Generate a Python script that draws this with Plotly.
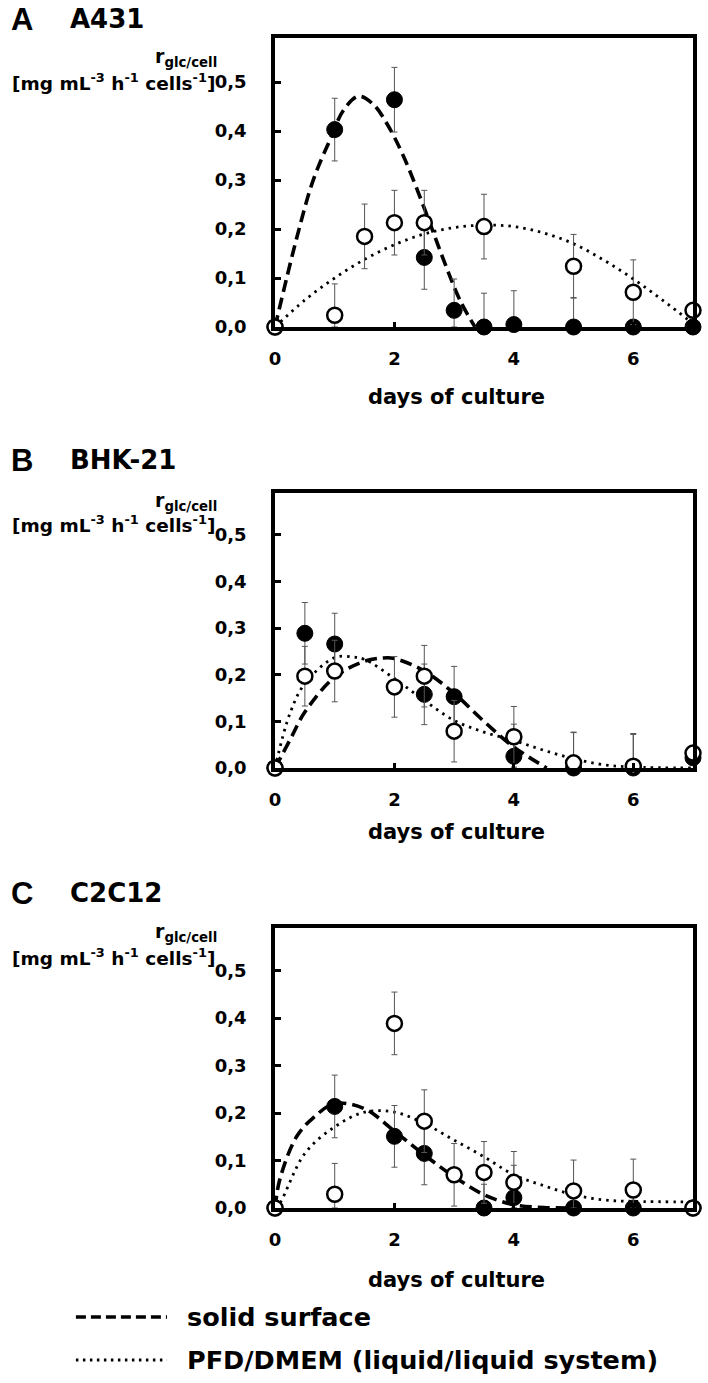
import plotly.graph_objects as go

# ---------------- data ----------------
# Panel A: A431
A_solid_days = [0, 1, 2, 2.5, 3, 3.5, 4, 5, 6, 7]
A_solid_r = [0, 0.403, 0.464, 0.142, 0.034, 0.0, 0.005, 0.0, 0.0, 0.0]
A_solid_err = [0, 0.064, 0.066, 0.065, 0.064, 0.069, 0.069, 0.06, 0, 0]
A_liq_days = [0, 1, 1.5, 2, 2.5, 3.5, 5, 6, 7]
A_liq_r = [0, 0.024, 0.185, 0.213, 0.213, 0.205, 0.124, 0.071, 0.034]
A_liq_err = [0, 0.064, 0.066, 0.066, 0.066, 0.066, 0.065, 0.066, 0]
A_fit_solid_days = [0, 0.36, 0.64, 0.92, 1.15, 1.4, 1.65, 1.87, 2.15, 2.53, 2.82, 3.1, 3.35]
A_fit_solid_r = [0, 0.18, 0.30, 0.382, 0.443, 0.471, 0.454, 0.416, 0.349, 0.233, 0.138, 0.054, 0.0]
A_fit_liq_days = [0, 0.5, 1, 1.5, 2, 2.5, 3, 3.5, 4, 4.5, 5, 5.5, 6, 6.5, 7]
A_fit_liq_r = [0, 0.055, 0.1, 0.138, 0.168, 0.19, 0.203, 0.208, 0.205, 0.192, 0.17, 0.137, 0.098, 0.054, 0.007]

# Panel B: BHK-21
B_solid_days = [0, 0.5, 1, 2.5, 3, 4, 5, 6, 7]
B_solid_r = [0, 0.289, 0.266, 0.158, 0.153, 0.025, 0.0, 0.0, 0.022]
B_solid_err = [0, 0.066, 0.066, 0.065, 0.065, 0.069, 0.076, 0.072, 0]
B_liq_days = [0, 0.5, 1, 2, 2.5, 3, 4, 5, 6, 7]
B_liq_r = [0, 0.197, 0.208, 0.174, 0.197, 0.079, 0.067, 0.011, 0.004, 0.032]
B_liq_err = [0, 0.064, 0.066, 0.065, 0.066, 0.066, 0.065, 0.066, 0.07, 0]
B_fit_solid_days = [0, 0.25, 0.5, 1, 1.5, 1.8, 2, 2.5, 3, 3.5, 4, 4.55]
B_fit_solid_r = [0, 0.06, 0.12, 0.195, 0.229, 0.236, 0.235, 0.208, 0.16, 0.1, 0.045, 0.0]
B_fit_liq_days = [0, 0.25, 0.5, 1, 1.3, 1.5, 2, 2.5, 3, 3.5, 4, 4.5, 5, 5.5, 6, 7]
B_fit_liq_r = [0, 0.117, 0.181, 0.237, 0.238, 0.233, 0.192, 0.145, 0.102, 0.077, 0.059, 0.038, 0.02, 0.007, 0.002, 0.0]

# Panel C: C2C12
C_solid_days = [0, 1, 2, 2.5, 3.5, 4, 5, 6, 7]
C_solid_r = [0, 0.214, 0.151, 0.115, 0.0, 0.022, 0.0, 0.0, 0.0]
C_solid_err = [0, 0.066, 0.065, 0.066, 0.05, 0.068, 0, 0, 0]
C_liq_days = [0, 1, 2, 2.5, 3, 3.5, 4, 5, 6, 7]
C_liq_r = [0, 0.029, 0.389, 0.183, 0.07, 0.075, 0.054, 0.036, 0.038, 0.0]
C_liq_err = [0, 0.065, 0.066, 0.066, 0.066, 0.065, 0.065, 0.065, 0.065, 0]
C_fit_solid_days = [0, 0.08, 0.36, 0.64, 1, 1.5, 2, 2.5, 3, 3.5, 4, 4.5, 5]
C_fit_solid_r = [0, 0.06, 0.15, 0.19, 0.22, 0.209, 0.162, 0.112, 0.066, 0.028, 0.007, 0.001, 0.0]
C_fit_liq_days = [0, 0.08, 0.5, 1, 1.5, 2, 2.5, 3, 3.5, 4, 4.5, 5, 5.5, 6, 7]
C_fit_liq_r = [0, 0.01, 0.115, 0.171, 0.202, 0.202, 0.178, 0.143, 0.108, 0.07, 0.047, 0.028, 0.017, 0.014, 0.013]

panel_letters = ["A", "B", "C"]
panel_names = ["A431", "BHK-21", "C2C12"]
x_ticks = [0, 2, 4, 6]
y_ticks = [0.0, 0.1, 0.2, 0.3, 0.4, 0.5]
x_title = "days of culture"
y_title_1 = "r<sub>glc/cell</sub>"
y_title_2 = "[mg mL<sup>-3</sup> h<sup>-1</sup> cells<sup>-1</sup>]"
legend_labels = ["solid surface", "PFD/DMEM (liquid/liquid system)"]

panels = [
    (A_solid_days, A_solid_r, A_solid_err, A_liq_days, A_liq_r, A_liq_err,
     A_fit_solid_days, A_fit_solid_r, A_fit_liq_days, A_fit_liq_r),
    (B_solid_days, B_solid_r, B_solid_err, B_liq_days, B_liq_r, B_liq_err,
     B_fit_solid_days, B_fit_solid_r, B_fit_liq_days, B_fit_liq_r),
    (C_solid_days, C_solid_r, C_solid_err, C_liq_days, C_liq_r, C_liq_err,
     C_fit_solid_days, C_fit_solid_r, C_fit_liq_days, C_fit_liq_r),
]

# ---------------- layout geometry (pixels) ----------------
W, H = 708, 1383
ML, MR, MT, MB = 275, 11, 38, 175
PW = W - ML - MR
PH = H - MT - MB

def px(x):
    return (x - ML) / PW

def py(y):
    return (H - MB - y) / PH

boxes = [(38, 327), (493, 768), (928, 1208)]
title_y = [397, 832, 1280]
label_y = [19, 460, 893]
r_y = [57, 501, 933]
unit_y = [82, 524, 957]

FONT = "'DejaVu Sans', sans-serif"

fig = go.Figure()

for i, p in enumerate(panels):
    sd, sr, se, ld, lr, le, fsd, fsr, fld, flr = p
    xa = "x" if i == 0 else f"x{i+1}"
    ya = "y" if i == 0 else f"y{i+1}"
    fig.add_trace(go.Scatter(x=fsd, y=fsr, mode="lines", xaxis=xa, yaxis=ya,
                             line=dict(color="black", width=3.6, dash="12px,6px", shape="spline", smoothing=1.0),
                             showlegend=False, hoverinfo="skip"))
    fig.add_trace(go.Scatter(x=fld, y=flr, mode="lines", xaxis=xa, yaxis=ya,
                             line=dict(color="black", width=2.8, dash="2.5px,5px", shape="spline", smoothing=1.0),
                             showlegend=False, hoverinfo="skip"))
    fig.add_trace(go.Scatter(
        x=sd, y=sr, mode="markers", xaxis=xa, yaxis=ya, cliponaxis=False,
        error_y=dict(type="data", array=se, arrayminus=[min(e, v) for e, v in zip(se, sr)],
                     color="#555555", thickness=1, width=3),
        marker=dict(symbol="circle", size=16, color="black", line=dict(color="black", width=1)),
        showlegend=False))
    fig.add_trace(go.Scatter(
        x=ld, y=lr, mode="markers", xaxis=xa, yaxis=ya, cliponaxis=False,
        error_y=dict(type="data", array=le, arrayminus=[min(e, v) for e, v in zip(le, lr)],
                     color="#555555", thickness=1, width=3),
        marker=dict(symbol="circle", size=15, color="white", line=dict(color="black", width=2.5)),
        showlegend=False))

axis_common = dict(showline=True, linecolor="black", linewidth=3.5, mirror=True,
                   showgrid=False, zeroline=False, ticks="inside", tickcolor="black",
                   tickwidth=3)

layout_axes = {}
for i, (top, bot) in enumerate(boxes):
    suffix = "" if i == 0 else str(i + 1)
    layout_axes["xaxis" + suffix] = dict(
        axis_common, domain=[0, 1], range=[0, 7], tickvals=x_ticks, ticklen=5,
        anchor="y" + suffix, ticklabelstandoff=13,
        tickfont=dict(family=FONT, size=18, color="black", weight="bold"))
    layout_axes["yaxis" + suffix] = dict(
        axis_common, domain=[py(bot), py(top)], range=[0, 0.59], tickvals=y_ticks,
        tickformat=".1f", ticklen=6, anchor="x" + suffix, ticklabelstandoff=21,
        tickfont=dict(family=FONT, size=18, color="black", weight="bold"))

annotations = []
for i in range(3):
    annotations.append(dict(text=f"<b>{panel_letters[i]}</b>", x=px(6), y=py(label_y[i]),
                            xref="paper", yref="paper", xanchor="left", yanchor="middle",
                            showarrow=False, font=dict(family="'Liberation Sans', Arial", size=31, color="black")))
    annotations.append(dict(text=f"<b>{panel_names[i]}</b>", x=px(66), y=py(label_y[i]),
                            xref="paper", yref="paper", xanchor="left", yanchor="middle",
                            showarrow=False, font=dict(family=FONT, size=26, color="black")))
    annotations.append(dict(text=f"<b>{y_title_1}</b>", x=px(152), y=py(r_y[i]),
                            xref="paper", yref="paper", xanchor="left", yanchor="middle",
                            showarrow=False, font=dict(family=FONT, size=19, color="black")))
    annotations.append(dict(text=f"<b>{y_title_2}</b>", x=px(216), y=py(unit_y[i]),
                            xref="paper", yref="paper", xanchor="right", yanchor="middle",
                            showarrow=False, font=dict(family=FONT, size=18.5, color="black")))
    annotations.append(dict(text=f"<b>{x_title}</b>", x=px(458), y=py(title_y[i]),
                            xref="paper", yref="paper", xanchor="center", yanchor="middle",
                            showarrow=False, font=dict(family=FONT, size=21, color="black")))

leg_y = [1317, 1360]
shapes = [
    dict(type="line", xref="paper", yref="paper", x0=px(74), x1=px(166), y0=py(leg_y[0]), y1=py(leg_y[0]),
         line=dict(color="black", width=3.6, dash="10px,5px")),
    dict(type="line", xref="paper", yref="paper", x0=px(74), x1=px(166), y0=py(leg_y[1]), y1=py(leg_y[1]),
         line=dict(color="black", width=2.8, dash="2.5px,4.5px")),
]
for j in range(2):
    annotations.append(dict(text=f"<b>{legend_labels[j]}</b>", x=px(184), y=py(leg_y[j]),
                            xref="paper", yref="paper", xanchor="left", yanchor="middle",
                            showarrow=False, font=dict(family=FONT, size=25.5, color="black")))

fig.update_layout(
    width=W, height=H, autosize=False,
    margin=dict(l=ML, r=MR, t=MT, b=MB),
    paper_bgcolor="white", plot_bgcolor="white",
    separators=",.",
    showlegend=False,
    annotations=annotations, shapes=shapes,
    **layout_axes,
)

fig.write_html("out.html", config={"displayModeBar": False},
               post_script="document.body.style.margin='0';document.body.style.overflow='hidden';")
